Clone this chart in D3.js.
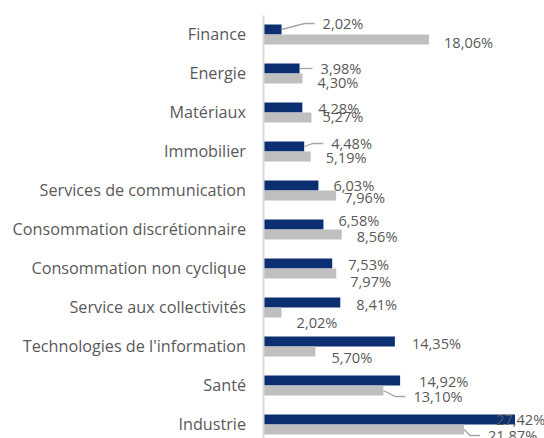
<!DOCTYPE html>
<html>
<head>
<meta charset="utf-8">
<script src="https://cdn.jsdelivr.net/npm/d3@7"></script>
<style>
  body { margin: 0; background: #fff; }
  text { font-family: 'Open Sans', sans-serif; fill: #595959; }
</style>
</head>
<body>
<svg id="chart" width="544" height="438"></svg>
<script>
let categories = ['Finance', 'Energie', 'Matériaux', 'Immobilier', 'Services de communication',
    'Consommation discrétionnaire', 'Consommation non cyclique', 'Service aux collectivités',
    "Technologies de l'information", 'Santé', 'Industrie']
let seriesNames = ['serieA', 'serieB']
let valuesA = [2.02, 3.98, 4.28, 4.48, 6.03, 6.58, 7.53, 8.41, 14.35, 14.92, 27.42]
let valuesB = [18.06, 4.30, 5.27, 5.19, 7.96, 8.56, 7.97, 2.02, 5.70, 13.10, 21.87]

// manual label nudges (dx from bar end, dy from bar centre), like the hand-placed excel labels
let nudgeA = [[41, -6], [21, 0], [16, 1], [27, -3], [15, 0], [15, -4], [16, 1], [16, 2], [17, 2], [19, 1], [-19, 0]]
let nudgeB = [[15, 3], [15, 4], [11, -1], [15, 1], [8, 2], [15, 2], [14, 8], [15, 10], [16, 6], [30, 6], [24, 6]]
let leaderA = [true, true, false, true, false, false, false, false, false, false, false]
let leaderB = [false, false, false, false, false, false, false, false, false, true, true]

function main() {
    let svg = d3.select('#chart')
    let colors = {serieA: '#0c2f71', serieB: '#bfbfbf'}

    let x = d3.scaleLinear().domain([0, 30]).range([263, 538.7])
    let y = d3.scaleBand().domain(categories).range([15, 444]).padding(0)
    let sub = d3.scaleBand().domain(seriesNames).range([0, y.bandwidth()]).paddingInner(0).paddingOuter(0.95)

    let fmt = v => v.toFixed(2).replace('.', ',') + '%'

    seriesNames.forEach((s, k) => {
        let vals = k === 0 ? valuesA : valuesB
        let nudge = k === 0 ? nudgeA : nudgeB
        let leader = k === 0 ? leaderA : leaderB

        svg.append('g').selectAll('rect')
            .data(categories)
            .enter()
            .append('rect')
            .attr('x', x(0))
            .attr('y', c => y(c) + sub(s))
            .attr('width', (c, i) => x(vals[i]) - x(0))
            .attr('height', sub.bandwidth())
            .attr('fill', colors[s])

        let cy = (c) => y(c) + sub(s) + sub.bandwidth() / 2

        svg.append('g').selectAll('polyline')
            .data(categories.filter((c, i) => leader[i]))
            .enter()
            .append('polyline')
            .attr('fill', 'none')
            .attr('stroke', '#a6a6a6')
            .attr('stroke-width', 1.3)
            .attr('points', c => {
                let i = categories.indexOf(c)
                let x0 = x(vals[i]), y0 = cy(c)
                let lx = x0 + nudge[i][0] - 8, ly = y0 + nudge[i][1]
                let ex = Math.max(x0 + 2, lx - 10)
                return [[x0, y0], [ex, ly], [lx, ly]].map(p => p.join(',')).join(' ')
            })

        svg.append('g').selectAll('text')
            .data(categories)
            .enter()
            .append('text')
            .attr('x', (c, i) => x(vals[i]) + nudge[i][0])
            .attr('y', (c, i) => cy(c) + nudge[i][1])
            .attr('dy', '0.35em')
            .attr('font-size', 14.6)
            .text((c, i) => fmt(vals[i]))
    })

    let axis = svg.append('g')
        .attr('transform', 'translate(' + x(0) + ',0)')
        .call(d3.axisLeft(y).tickSize(0).tickPadding(17))
    axis.select('.domain').attr('stroke', '#d9d9d9').attr('stroke-width', 2)
    axis.selectAll('text')
        .attr('font-size', 16.2)
        .style('font-family', "'Open Sans', sans-serif")
        .attr('fill', '#595959')
}

main()
</script>
</body>
</html>
